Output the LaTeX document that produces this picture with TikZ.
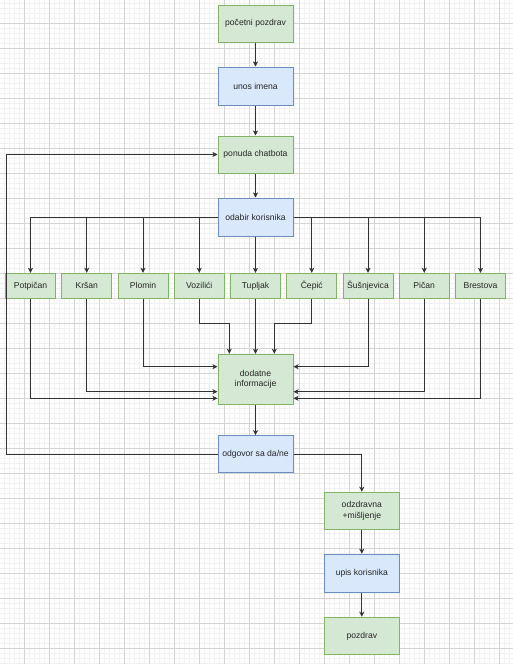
\documentclass[tikz,border=0pt]{standalone}
\usepackage{fontspec}
\setmainfont{Liberation Sans}
\usetikzlibrary{arrows.meta,calc}
\definecolor{gfill}{HTML}{D5E8D4}
\definecolor{gline}{HTML}{82B366}
\definecolor{bfill}{HTML}{DAE8FC}
\definecolor{bline}{HTML}{6C8EBF}
\definecolor{minorgrid}{HTML}{F1F1F1}
\definecolor{majorgrid}{HTML}{D4D4D4}
\definecolor{edgecol}{HTML}{333333}
\tikzset{
  box/.style={draw, line width=1pt, minimum width=75pt, minimum height=37pt, inner sep=1pt, align=center, font=\fontsize{8.6}{10.3}\selectfont, text=black!85},
  gbox/.style={box, fill=gfill, draw=gline},
  bbox/.style={box, fill=bfill, draw=bline},
  vbox/.style={gbox, minimum width=50pt, minimum height=25pt},
  conn/.style={draw=edgecol, line width=0.9pt, -{Stealth[length=5pt,width=5pt,inset=1.3pt]}},
  plainconn/.style={draw=edgecol, line width=0.9pt}
}
\begin{document}
\begin{tikzpicture}[x=1pt,y=-1pt]
\useasboundingbox (0,0) rectangle (513,664);
\fill[white] (0,0) rectangle (513,664);
% grid
\foreach \i in {0,...,103} {
  \draw[minorgrid, line width=0.8pt] ({-1+5*\i},0) -- ({-1+5*\i},664);
}
\foreach \j in {0,...,133} {
  \draw[minorgrid, line width=0.8pt] (0,{-2+5*\j}) -- (513,{-2+5*\j});
}
\foreach \i in {0,...,21} {
  \draw[majorgrid, line width=0.8pt] ({-1+25*\i},0) -- ({-1+25*\i},664);
}
\foreach \j in {0,...,27} {
  \draw[majorgrid, line width=0.8pt] (0,{-2+25*\j}) -- (513,{-2+25*\j});
}
% main column
\node[gbox] (poc) at (255.5,23.5) {početni pozdrav};
\node[bbox, minimum height=38pt] (unos) at (255.5,86) {unos imena};
\node[gbox] (pon) at (255.5,154.5) {ponuda chatbota};
\node[bbox, minimum height=38pt] (oda) at (255.5,217) {odabir korisnika};
% villages
\node[vbox] (v1) at (30.5,285.8) {Potpičan};
\node[vbox] (v2) at (86.75,285.8) {Kršan};
\node[vbox] (v3) at (143,285.8) {Plomin};
\node[vbox] (v4) at (199.25,285.8) {Vozilići};
\node[vbox] (v5) at (255.5,285.8) {Tupljak};
\node[vbox] (v6) at (311.75,285.8) {Čepić};
\node[vbox] (v7) at (368,285.8) {Šušnjevica};
\node[vbox] (v8) at (424.25,285.8) {Pičan};
\node[vbox] (v9) at (480.5,285.8) {Brestova};
\node[gbox, minimum height=50pt] (dod) at (255.5,379.3) {dodatne\\informacije};
\node[bbox] (odg) at (255.5,454.2) {odgovor sa da/ne};
\node[gbox] (ozd) at (361.8,510.8) {odzdravna\\+mišljenje};
\node[bbox, minimum height=38pt] (upis) at (361.8,573.3) {upis korisnika};
\node[gbox] (poz) at (361.8,635.8) {pozdrav};
% connectors main
\draw[conn] (poc) -- (unos);
\draw[conn] (unos) -- (pon);
\draw[conn] (pon) -- (oda);
\draw[conn] (dod) -- (odg);
\draw[conn] (ozd) -- (upis);
\draw[conn] (upis) -- (poz);
% branches
\foreach \v in {v1,v2,v3,v4} { \draw[conn] (oda.west) -| (\v.north); }
\draw[conn] (oda) -- (v5);
\foreach \v in {v6,v7,v8,v9} { \draw[conn] (oda.east) -| (\v.north); }
% into dodatne
\coordinate (k4) at (199.25,323.3);
\coordinate (k6) at (311.75,323.3);
\draw[conn] (v4.south) -- (k4) -| ([xshift=-26.2pt]dod.north);
\draw[conn] (v6.south) -- (k6) -| ([xshift=18.8pt]dod.north);
\draw[conn] (v5) -- (dod);
\draw[conn] (v3.south) |- ([yshift=12.6pt]dod.west);
\draw[conn] (v2.south) |- ([yshift=-12.4pt]dod.west);
\draw[conn] (v1.south) |- ([yshift=-19pt]dod.west);
\draw[conn] (v7.south) |- ([yshift=12.6pt]dod.east);
\draw[conn] (v8.south) |- ([yshift=-12.4pt]dod.east);
\draw[conn] (v9.south) |- ([yshift=-19pt]dod.east);
% loop back and exit
\coordinate (lp) at (6,454.2);
\draw[conn] (odg.west) -- (lp) |- (pon.west);
\draw[conn] (odg.east) -| (ozd.north);
\end{tikzpicture}
\end{document}
